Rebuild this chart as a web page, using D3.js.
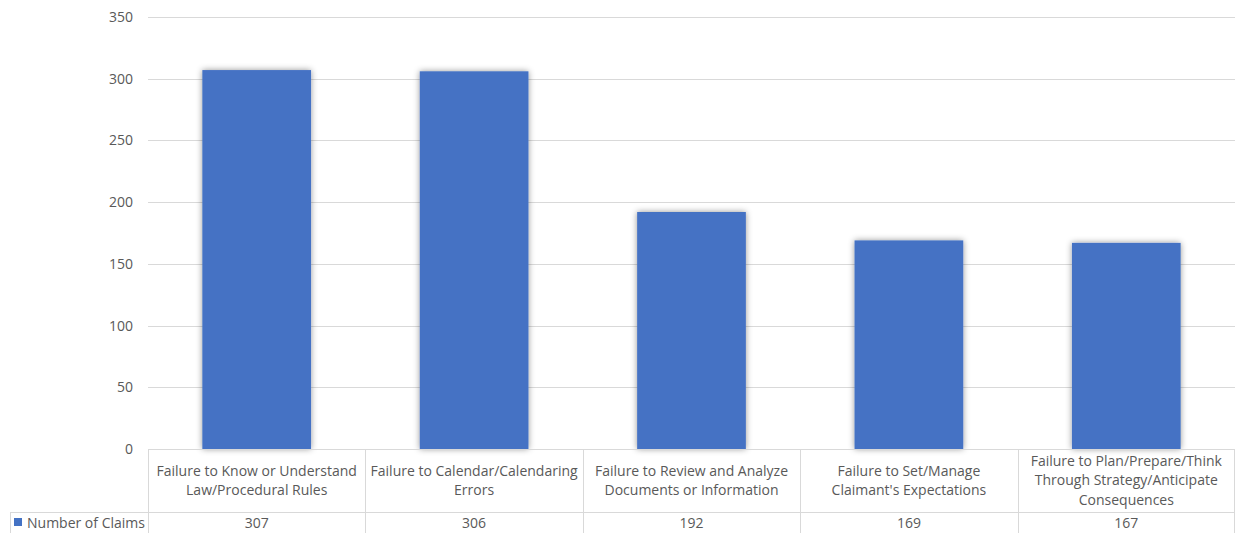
<!DOCTYPE html>
<html>
<head>
<meta charset="utf-8">
<script src="https://cdn.jsdelivr.net/npm/d3@7/dist/d3.min.js"></script>
<style>
  html, body { margin: 0; padding: 0; background: #fff; }
  svg { display: block; font-family: "Open Sans", "Noto Sans", sans-serif; }
</style>
</head>
<body>
<svg id="chart" width="1235" height="533"></svg>
<script>
// Claim counts by error type
const categories = [
  ["Failure to Know or Understand", "Law/Procedural Rules"],
  ["Failure to Calendar/Calendaring", "Errors"],
  ["Failure to Review and Analyze", "Documents or Information"],
  ["Failure to Set/Manage", "Claimant's Expectations"],
  ["Failure to Plan/Prepare/Think", "Through Strategy/Anticipate", "Consequences"]
];
const values = [307, 306, 192, 169, 167];
const seriesName = "Number of Claims";
const yTicks = [0, 50, 100, 150, 200, 250, 300, 350];

const svg = d3.select("#chart");
const plotLeft = 148, plotRight = 1235, plotTop = 17, plotBase = 449;
const headerBottom = 512, tableBottom = 540;
const gridColor = "#d9d9d9", textColor = "#595959", barColor = "#4472c4";
const fontSize = 14;

const x = d3.scaleBand().domain(d3.range(categories.length)).range([plotLeft, plotRight]).paddingInner(0.5).paddingOuter(0.25);
const xCell = d3.scaleBand().domain(d3.range(categories.length)).range([plotLeft, plotRight]);
const y = d3.scaleLinear().domain([0, 350]).range([plotBase, plotTop]);

// soft shadow around bars
const defs = svg.append("defs");
const f = defs.append("filter").attr("id", "shadow").attr("x", "-20%").attr("y", "-20%").attr("width", "140%").attr("height", "140%");
f.append("feDropShadow").attr("dx", 0).attr("dy", 0).attr("stdDeviation", 3)
  .attr("flood-color", "#000").attr("flood-opacity", 0.42);

// gridlines
svg.append("g").selectAll("line").data(yTicks.filter(d => d > 0)).join("line")
  .attr("x1", plotLeft).attr("x2", plotRight)
  .attr("y1", d => Math.round(y(d)) + 0.5).attr("y2", d => Math.round(y(d)) + 0.5)
  .attr("stroke", gridColor).attr("stroke-width", 1);

// y axis labels
const yAxis = d3.axisLeft(y).tickValues(yTicks).tickSize(0).tickPadding(15);
const yg = svg.append("g").attr("transform", `translate(${plotLeft},0)`).call(yAxis);
yg.select(".domain").remove();
yg.selectAll("text").attr("fill", textColor).attr("font-size", fontSize).attr("font-family", "Open Sans, sans-serif");

// bars
svg.append("g").selectAll("rect").data(values).join("rect")
  .attr("x", (d, i) => x(i)).attr("width", x.bandwidth())
  .attr("y", d => y(d)).attr("height", d => plotBase - y(d))
  .attr("fill", barColor).attr("filter", "url(#shadow)");

// data table
const tg = svg.append("g");
tg.append("line").attr("x1", plotLeft).attr("x2", plotRight).attr("y1", plotBase + 0.5).attr("y2", plotBase + 0.5).attr("stroke", gridColor);
tg.append("line").attr("x1", 10).attr("x2", plotRight).attr("y1", headerBottom + 0.5).attr("y2", headerBottom + 0.5).attr("stroke", gridColor);
const vx = d3.range(categories.length + 1).map(i => i < categories.length ? xCell(i) : plotRight - 1);
tg.selectAll("line.v").data(vx).join("line").attr("class", "v")
  .attr("x1", d => Math.round(d) + 0.5).attr("x2", d => Math.round(d) + 0.5)
  .attr("y1", plotBase).attr("y2", tableBottom).attr("stroke", gridColor);
tg.append("line").attr("x1", 10.5).attr("x2", 10.5).attr("y1", headerBottom).attr("y2", tableBottom).attr("stroke", gridColor);

// category labels
const lineH = 19.5;
const cl = tg.selectAll("text.cat").data(categories).join("text").attr("class", "cat")
  .attr("text-anchor", "middle").attr("fill", textColor).attr("font-size", fontSize)
  .attr("transform", (d, i) => `translate(${xCell(i) + xCell.bandwidth() / 2},${(plotBase + headerBottom) / 2})`);
cl.selectAll("tspan").data(d => d.map((t, k) => ({ t, k, n: d.length }))).join("tspan")
  .attr("x", 0).attr("y", d => (d.k - (d.n - 1) / 2) * lineH)
  .attr("dy", "0.35em").text(d => d.t);

// value row
tg.selectAll("text.val").data(values).join("text").attr("class", "val")
  .attr("x", (d, i) => xCell(i) + xCell.bandwidth() / 2).attr("y", 523)
  .attr("dy", "0.35em").attr("text-anchor", "middle").attr("fill", textColor).attr("font-size", fontSize)
  .text(d => d);

// legend key
tg.append("rect").attr("x", 14).attr("y", 518).attr("width", 8).attr("height", 8).attr("fill", barColor);
tg.append("text").attr("x", 27).attr("y", 523).attr("dy", "0.35em").attr("fill", textColor).attr("font-size", fontSize).text(seriesName);
</script>
</body>
</html>
